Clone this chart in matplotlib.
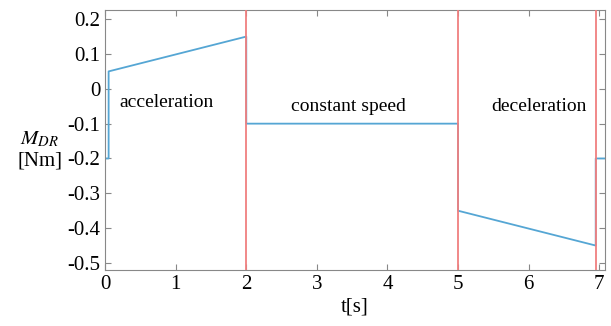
import numpy as np
from matplotlib import pyplot as plt

plt.rcParams['font.family'] = ['Liberation Serif', 'DejaVu Serif']
plt.rcParams['mathtext.fontset'] = 'stix'

# torque profile M_DR over time
t = [0.0, 0.05, 0.05, 2.0, 2.0, 5.0, 5.0, 6.95, 6.95, 7.1]
m = [-0.2, -0.2, 0.05, 0.15, -0.1, -0.1, -0.35, -0.45, -0.2, -0.2]

phase_bounds = [2.0, 5.0, 6.95]
phase_names = ['acceleration', 'constant speed', 'deceleration']
phase_label_x = [0.87, 3.45, 6.15]
phase_label_y = [-0.04, -0.052, -0.052]

x_ticks = [0, 1, 2, 3, 4, 5, 6, 7]
y_ticks = [0.2, 0.1, 0, -0.1, -0.2, -0.3, -0.4, -0.5]
y_ticklabels = ['0.2', '0.1', '0', '-0.1', '-0.2', '-0.3', '-0.4', '-0.5']

fig = plt.figure(figsize=(6.11, 3.26), dpi=100)
ax = fig.add_axes([0.172, 0.172, 0.818, 0.797])

ax.plot(t, m, color='#55a6d4', linewidth=1.3, zorder=2)

for b in phase_bounds:
    ax.axvline(b, color='#f07f7f', linewidth=1.3, zorder=3)

for name, x, y in zip(phase_names, phase_label_x, phase_label_y):
    ax.text(x, y, name, ha='center', va='center', fontsize=14)

ax.set_xlim(0, 7.08)
ax.set_ylim(-0.52, 0.226)
ax.set_xticks(x_ticks)
ax.set_yticks(y_ticks)
ax.set_yticklabels(y_ticklabels)
ax.tick_params(direction='in', top=True, right=True, labelsize=15, length=4, color='#888888')
for s in ax.spines.values():
    s.set_color('#888888')

ax.set_xlabel('t[s]', fontsize=15, labelpad=3)
fig.text(0.065, 0.54, '$M_{DR}$\n[Nm]', ha='center', va='center', fontsize=15, linespacing=1.1)

plt.savefig('out.png')
